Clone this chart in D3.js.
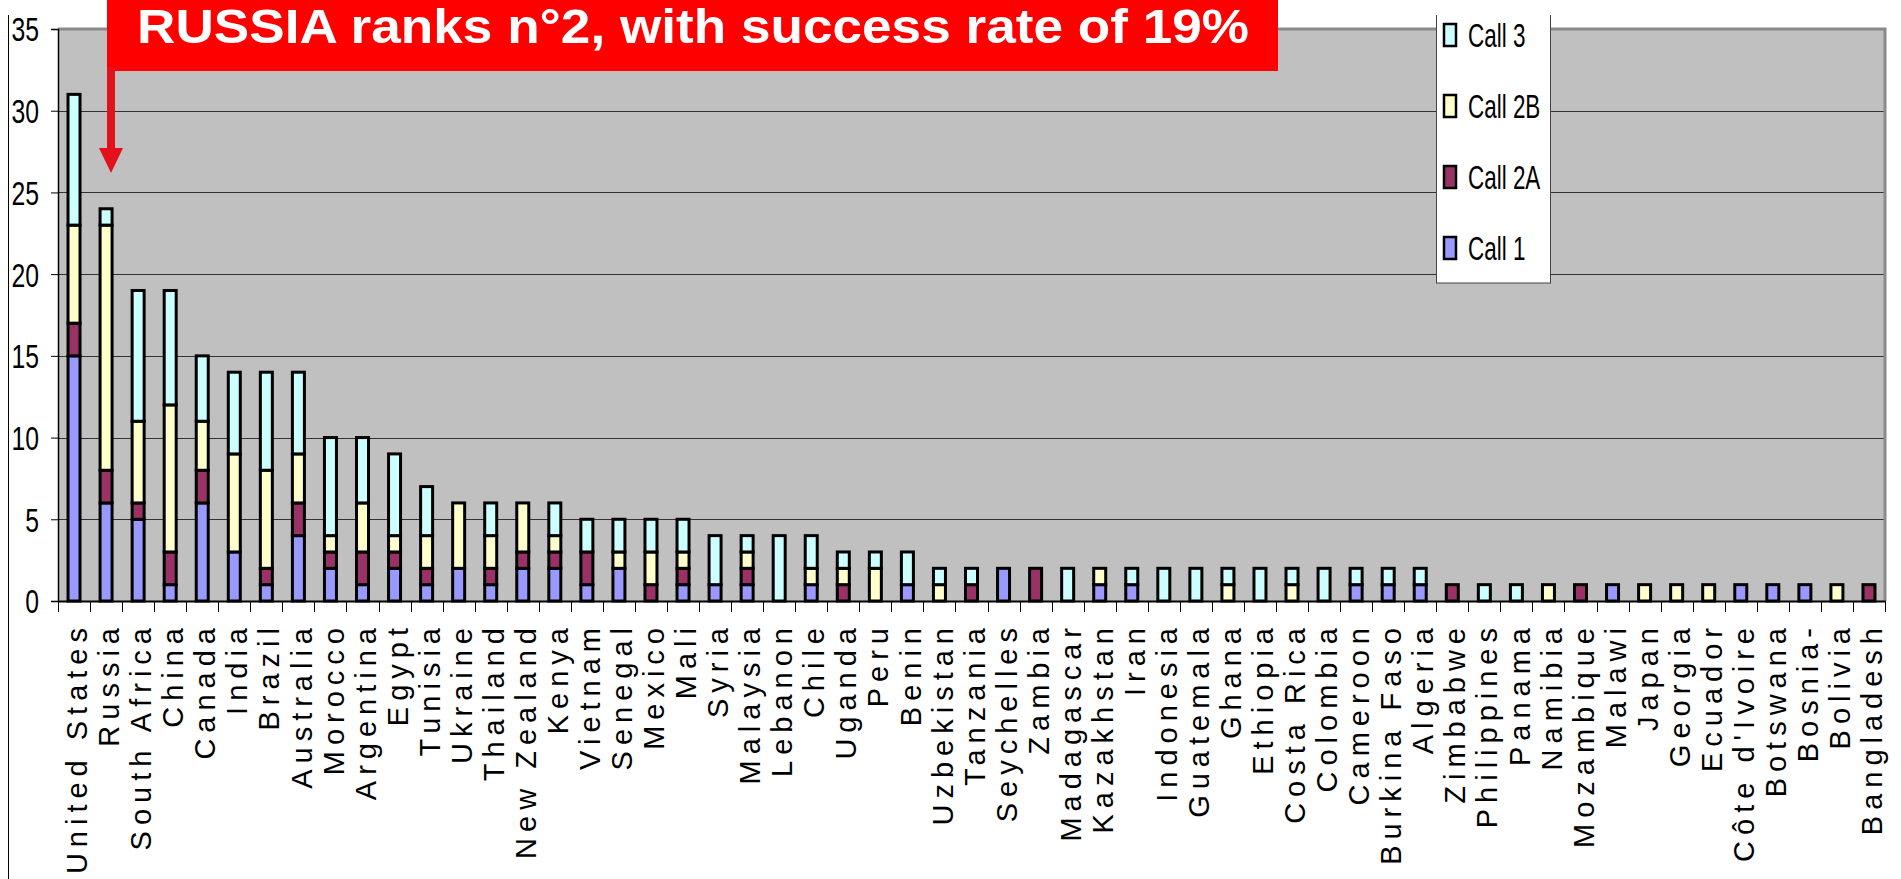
<!DOCTYPE html>
<html>
<head>
<meta charset="utf-8">
<script src="https://cdn.jsdelivr.net/npm/d3@7"></script>
<style>
  html, body { margin: 0; padding: 0; background: #fff; }
  svg { display: block; }
</style>
</head>
<body>
<script>
// countries, in chart order
const countries = ["United States", "Russia", "South Africa", "China", "Canada", "India", "Brazil",
  "Australia", "Morocco", "Argentina", "Egypt", "Tunisia", "Ukraine", "Thailand", "New Zealand",
  "Kenya", "Vietnam", "Senegal", "Mexico", "Mali", "Syria", "Malaysia", "Lebanon", "Chile",
  "Uganda", "Peru", "Benin", "Uzbekistan", "Tanzania", "Seychelles", "Zambia", "Madagascar",
  "Kazakhstan", "Iran", "Indonesia", "Guatemala", "Ghana", "Ethiopia", "Costa Rica", "Colombia",
  "Cameroon", "Burkina Faso", "Algeria", "Zimbabwe", "Philippines", "Panama", "Namibia",
  "Mozambique", "Malawi", "Japan", "Georgia", "Ecuador", "Côte d'Ivoire", "Botswana", "Bosnia-",
  "Bolivia", "Bangladesh"];

const call1  = [15, 6, 5, 1, 6, 3, 1, 4, 2, 1, 2, 1, 2, 1, 2, 2, 1, 2, 0, 1, 1, 1, 0, 1, 0, 0, 1, 0, 0, 2,
  0, 0, 1, 1, 0, 0, 0, 0, 0, 0, 1, 1, 1, 0, 0, 0, 0, 0, 1, 0, 0, 0, 1, 1, 1, 0, 0];
const call2A = [2, 2, 1, 2, 2, 0, 1, 2, 1, 2, 1, 1, 0, 1, 1, 1, 2, 0, 1, 1, 0, 1, 0, 0, 1, 0, 0, 0, 1, 0,
  2, 0, 0, 0, 0, 0, 0, 0, 0, 0, 0, 0, 0, 1, 0, 0, 0, 1, 0, 0, 0, 0, 0, 0, 0, 0, 1];
const call2B = [6, 15, 5, 9, 3, 6, 6, 3, 1, 3, 1, 2, 4, 2, 3, 1, 0, 1, 2, 1, 0, 1, 0, 1, 1, 2, 0, 1, 0, 0,
  0, 0, 1, 0, 0, 0, 1, 0, 1, 0, 0, 0, 0, 0, 0, 0, 1, 0, 0, 1, 1, 1, 0, 0, 0, 1, 0];
const call3  = [8, 1, 8, 7, 4, 5, 6, 5, 6, 4, 5, 3, 0, 2, 0, 2, 2, 2, 2, 2, 3, 1, 4, 2, 1, 1, 2, 1, 1, 0,
  0, 2, 0, 1, 2, 2, 1, 2, 1, 2, 1, 1, 1, 0, 1, 1, 0, 0, 0, 0, 0, 0, 0, 0, 0, 0, 0];

const seriesNames = ["Call 1", "Call 2A", "Call 2B", "Call 3"];
const seriesColors = ["#9999FF", "#993366", "#FFFFCC", "#CCFFFF"];
const yTicks = [0, 5, 10, 15, 20, 25, 30, 35];
const title = "RUSSIA ranks n°2, with success rate of 19%";

const width = 1901, height = 879;
const plot = { left: 58, right: 1885, top: 29, bottom: 601 };

const rows = countries.map((c, i) => ({
  country: c, "Call 1": call1[i], "Call 2A": call2A[i], "Call 2B": call2B[i], "Call 3": call3[i]
}));
const stacked = d3.stack().keys(seriesNames)(rows);

const x = d3.scaleBand().domain(countries).range([plot.left, plot.right]).padding(0);
const y = d3.scaleLinear().domain([0, 35]).range([plot.bottom, plot.top]);
const color = d3.scaleOrdinal().domain(seriesNames).range(seriesColors);

const svg = d3.select("body").append("svg")
  .attr("width", width)
  .attr("height", height)
  .attr("font-family", "'Liberation Sans', Arial, sans-serif");

svg.append("defs").append("clipPath").attr("id", "frame")
  .append("rect").attr("x", 0).attr("y", 15).attr("width", width).attr("height", height - 15);

const chart = svg.append("g").attr("clip-path", "url(#frame)");

// outer frame left edge
chart.append("line")
  .attr("x1", 8.5).attr("x2", 8.5).attr("y1", 15).attr("y2", height)
  .attr("stroke", "#000").attr("stroke-width", 1);

// plot background
chart.append("rect")
  .attr("x", plot.left).attr("y", plot.top)
  .attr("width", plot.right - plot.left).attr("height", plot.bottom - plot.top)
  .attr("fill", "#C0C0C0");

// gridlines
chart.append("g")
  .selectAll("line")
  .data(yTicks.filter(t => t > 0 && t < 35))
  .join("line")
  .attr("x1", plot.left).attr("x2", plot.right)
  .attr("y1", d => Math.round(y(d)) + 0.5).attr("y2", d => Math.round(y(d)) + 0.5)
  .attr("stroke", "#333").attr("stroke-width", 1);

// top and right border of plot area
chart.append("path")
  .attr("d", `M${plot.left},${plot.top}H${plot.right}V${plot.bottom}`)
  .attr("fill", "none").attr("stroke", "#8a8a8a").attr("stroke-width", 3);

// stacked bars
const barW = 12;
chart.append("g")
  .selectAll("g")
  .data(stacked)
  .join("g")
  .attr("fill", d => color(d.key))
  .selectAll("rect")
  .data(d => d.filter(s => s[1] - s[0] > 0))
  .join("rect")
  .attr("x", d => x(d.data.country) + x.bandwidth() / 2 - barW / 2)
  .attr("y", d => y(d[1]))
  .attr("width", barW)
  .attr("height", d => y(d[0]) - y(d[1]))
  .attr("stroke", "#000")
  .attr("stroke-width", 3);

// y axis
const yAxis = chart.append("g")
  .attr("transform", `translate(${plot.left},0)`)
  .call(d3.axisLeft(y).tickValues(yTicks).tickSize(7).tickPadding(0).tickFormat(d3.format("d")));
yAxis.select(".domain").attr("stroke", "#000").attr("stroke-width", 1.5);
yAxis.selectAll(".tick line").attr("stroke", "#000");
yAxis.selectAll(".tick text")
  .attr("font-size", 33)
  .attr("fill", "#000")
  .attr("x", -19 / 0.75)
  .attr("dy", "0.36em")
  .attr("transform", "scale(0.75,1)");

// x axis (line + ticks on band edges)
const xAxis = chart.append("g")
  .attr("transform", `translate(0,${plot.bottom})`)
  .call(d3.axisBottom(x).tickSize(0).tickSizeOuter(0).tickFormat(""));
xAxis.select(".domain").attr("stroke", "#000").attr("stroke-width", 2);
chart.append("g")
  .selectAll("line")
  .data(countries.map(c => x(c)).concat([plot.right]))
  .join("line")
  .attr("x1", d => Math.round(d) + 0.5).attr("x2", d => Math.round(d) + 0.5)
  .attr("y1", plot.bottom).attr("y2", plot.bottom + 11)
  .attr("stroke", "#000").attr("stroke-width", 1);

// category labels, rotated
chart.append("g")
  .selectAll("text")
  .data(countries)
  .join("text")
  .attr("transform", d => `translate(${x(d) + x.bandwidth() / 2 + 3},622) rotate(-90)`)
  .attr("dy", "0.35em")
  .attr("text-anchor", "end")
  .attr("font-size", 29)
  .attr("letter-spacing", 6)
  .attr("fill", "#000")
  .text(d => d);

// legend
const legend = chart.append("g");
legend.append("rect")
  .attr("x", 1436.5).attr("y", 5).attr("width", 114).attr("height", 278)
  .attr("fill", "#fff").attr("stroke", "#444").attr("stroke-width", 1);
const legendOrder = seriesNames.slice().reverse();
const li = legend.selectAll("g.item")
  .data(legendOrder)
  .join("g")
  .attr("class", "item")
  .attr("transform", (d, i) => `translate(1444,${35 + i * 71})`);
li.append("rect")
  .attr("x", 0).attr("y", -11).attr("width", 12).attr("height", 22)
  .attr("fill", d => color(d)).attr("stroke", "#000").attr("stroke-width", 2.5);
li.append("text")
  .attr("transform", "translate(24,0) scale(0.66,1)")
  .attr("dy", "0.36em")
  .attr("font-size", 34)
  .attr("fill", "#000")
  .text(d => d);

// title box
svg.append("rect")
  .attr("x", 107).attr("y", 0).attr("width", 1171).attr("height", 71)
  .attr("fill", "#FF0000");
svg.append("text")
  .attr("x", 137).attr("y", 43)
  .attr("font-size", 49)
  .attr("font-weight", "bold")
  .attr("textLength", 1112)
  .attr("lengthAdjust", "spacingAndGlyphs")
  .attr("fill", "#fff")
  .text(title);

// arrow pointing at Russia
svg.append("rect")
  .attr("x", 107).attr("y", 67).attr("width", 8).attr("height", 82)
  .attr("fill", "#E3111B");
svg.append("path")
  .attr("d", "M99,148L123,148L111,173Z")
  .attr("fill", "#E3111B");
</script>
</body>
</html>
